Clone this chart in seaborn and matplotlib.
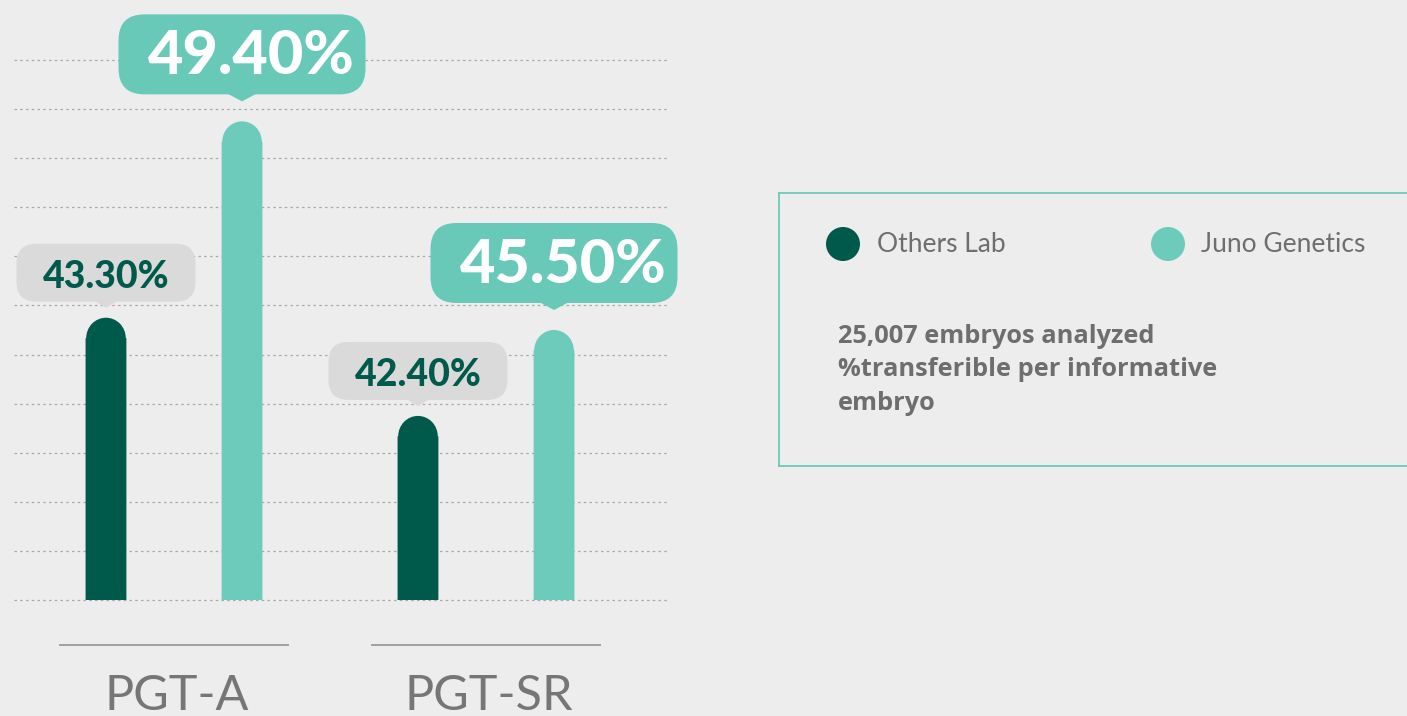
import matplotlib
matplotlib.use('Agg')
import pandas as pd
import matplotlib.pyplot as plt
import matplotlib.transforms as mtransforms
from matplotlib.patches import Ellipse, FancyBboxPatch, Polygon, Circle
import seaborn as sns

# values
categories = ['PGT-A', 'PGT-SR']
series = ['Others Lab', 'Juno Genetics']
# bar length in gridline steps (the drawn bars are not to scale with the labels)
others_height = [5.75, 3.75]
juno_height = [9.75, 5.5]
others_label = ['43.30%', '42.40%']
juno_label = ['49.40%', '45.50%']
note_lines = ['25,007 embryos analyzed', '%transferible per informative', 'embryo']

dark = '#005a4c'
light = '#6ccbba'
bubble_light = '#68c9b9'
bubble_grey = '#dadada'
bg = '#ededed'
grey_text = '#6e6e6e'

df = pd.DataFrame({
    'test': categories * 2,
    'lab': [series[0]] * 2 + [series[1]] * 2,
    'height': others_height + juno_height,
})

sns.set_theme(style='white')
plt.rcParams['font.family'] = ['Lato', 'DejaVu Sans']

fig = plt.figure(figsize=(14.07, 7.16), dpi=100, facecolor=bg)
ax = fig.add_axes([0, 0, 680 / 1407, 1])
ax.set_facecolor(bg)

sns.barplot(data=df, x='test', y='height', hue='lab', hue_order=series,
            palette=[dark, light], saturation=1, width=0.872, gap=0.7,
            errorbar=None, legend=False, linewidth=0, zorder=3, ax=ax)

step = 540 / 11  # pixels per grid step
ax.set_xlim(-174 / 312, (680 - 174) / 312)
ax.set_ylim(-116 / step, 600 / step)
ax.set_axis_off()

# dotted guide lines
ax.hlines(range(12), -0.513, 1.587, color='#a9a9a9', lw=0.9,
          linestyle=(0, (2.0, 2.6)), zorder=1)

# rounded bar tops
px_x = ax.transData.transform((1, 0))[0] - ax.transData.transform((0, 0))[0]
px_y = ax.transData.transform((0, 1))[1] - ax.transData.transform((0, 0))[1]
for cont in ax.containers:
    for bar in cont:
        w = bar.get_width()
        h = bar.get_height()
        r = w / 2 * px_x / px_y
        bar.set_height(h - r)
        bar.set_snap(False)
        bar.set_linewidth(0)
        bar.set_edgecolor('none')
        ax.add_patch(Ellipse((bar.get_x() + w / 2, h - r), w * 0.97, 2 * r,
                             facecolor=bar.get_facecolor(), lw=0, zorder=3))


def bubble(x, y, text, big):
    trans = fig.dpi_scale_trans + mtransforms.ScaledTranslation(x, y, ax.transData)
    if big:
        w, h, gap, ph, pw, rad, base = 247, 80, 20, 7, 15, 26, 20
        face, col, size, dx = bubble_light, 'white', 44, 9
    else:
        w, h, gap, ph, pw, rad, base = 179, 58, 10, 6, 12, 20, 14
        face, col, size, dx = bubble_grey, dark, 27, 0
    y0 = gap + ph
    box = FancyBboxPatch((-w / 200, y0 / 100), w / 100, h / 100,
                         boxstyle=f'round,pad=0,rounding_size={rad / 100}',
                         transform=trans, facecolor=face, lw=0, zorder=5,
                         clip_on=False)
    tip = Polygon([(-pw / 100, (y0 + 1) / 100), (pw / 100, (y0 + 1) / 100),
                   (0, gap / 100)], closed=True, transform=trans,
                  facecolor=face, lw=0, zorder=5, clip_on=False)
    ax.add_patch(box)
    ax.add_patch(tip)
    ax.text(dx / 100, (y0 + base) / 100, text, transform=trans, ha='center',
            va='baseline', color=col, fontsize=size, fontweight=900,
            zorder=6, clip_on=False)


for cont, labels, big in zip(ax.containers, [others_label, juno_label], [False, True]):
    for bar, lab in zip(cont, labels):
        top = bar.get_y() + bar.get_height() + bar.get_width() / 2 * px_x / px_y
        bubble(bar.get_x() + bar.get_width() / 2, top, lab, big)

# category underline and names
for i, cat in enumerate(categories):
    ax.plot([i - 0.367, i + 0.367], [-45 / step] * 2, color='#9a9a9a', lw=1.3,
            solid_capstyle='butt')
    ax.text(i + 0.01, -110 / step, cat, ha='center', va='baseline',
            color='#767676', fontsize=35, fontweight='normal')

# legend panel, in pixel coordinates
lax = fig.add_axes([779 / 1407, (716 - 466) / 716, (1407 - 779) / 1407, 273 / 716])
lax.set_xlim(779, 1407)
lax.set_ylim(466, 193)
lax.set_facecolor(bg)
lax.set_xticks([])
lax.set_yticks([])
for side, sp in lax.spines.items():
    sp.set_color(light)
    sp.set_linewidth(1.3)
lax.spines['right'].set_visible(False)

for cx, tx, name, col in [(843, 877, series[0], dark), (1168, 1201, series[1], light)]:
    lax.add_patch(Circle((cx, 244), 17, facecolor=col, lw=0))
    lax.text(tx, 252, name, ha='left', va='baseline', color=grey_text,
             fontsize=19, fontweight='normal')

for k, line in enumerate(note_lines):
    lax.text(838, 343 + 33.5 * k, line, ha='left', va='baseline',
             color=grey_text, fontsize=18.3, fontweight='bold',
             family=['Open Sans', 'DejaVu Sans'])

fig.savefig('out.png', dpi=100, facecolor=bg)
